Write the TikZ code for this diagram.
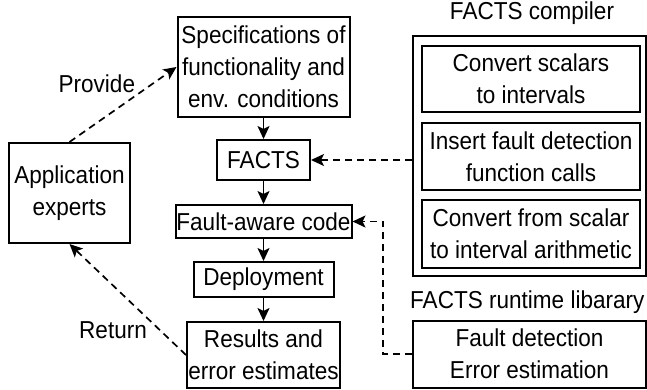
\documentclass[tikz,border=0pt]{standalone}
\usepackage{fontspec}
\setmainfont{Liberation Sans}[FakeStretch=0.92]
\usetikzlibrary{arrows.meta}
\begin{document}
\begin{tikzpicture}[x=1pt,y=-1pt,
  box/.style={draw, line width=2pt, inner sep=0pt, align=center, font=\fontsize{24.5}{32}\selectfont},
  lbl/.style={inner sep=1pt, font=\fontsize{24.5}{32}\selectfont},
  flow/.style={line width=1.8pt, -{Stealth[length=13pt,width=12pt,inset=3pt]}},
  dflow/.style={line width=1.7pt, dash pattern=on 7pt off 5pt, -{Stealth[length=13pt,width=12pt,inset=3pt]}}]
\useasboundingbox (0,0) rectangle (647,389);
% main column
\node[box, minimum width=172pt, minimum height=100pt] (spec) at (263.5,67) {Specifications of\\functionality and\\env. conditions};
\node[box, minimum width=93pt, minimum height=40pt] (facts) at (263.5,160) {FACTS};
\node[box, minimum width=176pt, minimum height=33pt] (fault) at (263.5,221.5) {Fault-aware code};
\node[box, minimum width=140pt, minimum height=35pt] (deploy) at (263.5,279.5) {Deployment};
\node[box, minimum width=153pt, minimum height=66pt] (results) at (263.5,355) {Results and\\error estimates};
\node[box, minimum width=121pt, minimum height=100pt] (app) at (69.5,193) {Application\\experts};
% compiler
\node[box, minimum width=233pt, minimum height=240pt] (compiler) at (529.5,156) {};
\node[box, minimum width=218pt, minimum height=66pt] (c1) at (531,79) {Convert scalars\\to intervals};
\node[box, minimum width=218pt, minimum height=67pt] (c2) at (531,156.5) {Insert fault detection\\function calls};
\node[box, minimum width=218pt, minimum height=68pt] (c3) at (531,234) {Convert from scalar\\to interval arithmetic};
\node[lbl, anchor=base] (ctitle) at (532,19) {FACTS compiler};
% runtime
\node[lbl, inner sep=0pt, anchor=base west] (rtitle) at (410,308) {FACTS runtime libarary};
\node[box, minimum width=233pt, minimum height=67pt] (runtime) at (529.5,354) {Fault detection\\Error estimation};
% solid flow
\draw[flow] (spec) -- (facts);
\draw[flow] (facts) -- (fault);
\draw[flow] (fault) -- (deploy);
\draw[flow] (deploy) -- (results);
% dashed
\draw[dflow] (app.north) -- (spec.west) node[lbl, pos=0.63, anchor=south east] (provide) {Provide};
\draw[dflow] (results.west) -- (app.south) node[lbl, pos=0.32, anchor=north east] (return) {Return};
\draw[dflow] (compiler.west |- facts.east) -- (facts.east);
\coordinate (bend) at (383,221.5);
\draw[dflow] (runtime.west) -| (bend) -- (fault.east);
\end{tikzpicture}
\end{document}
